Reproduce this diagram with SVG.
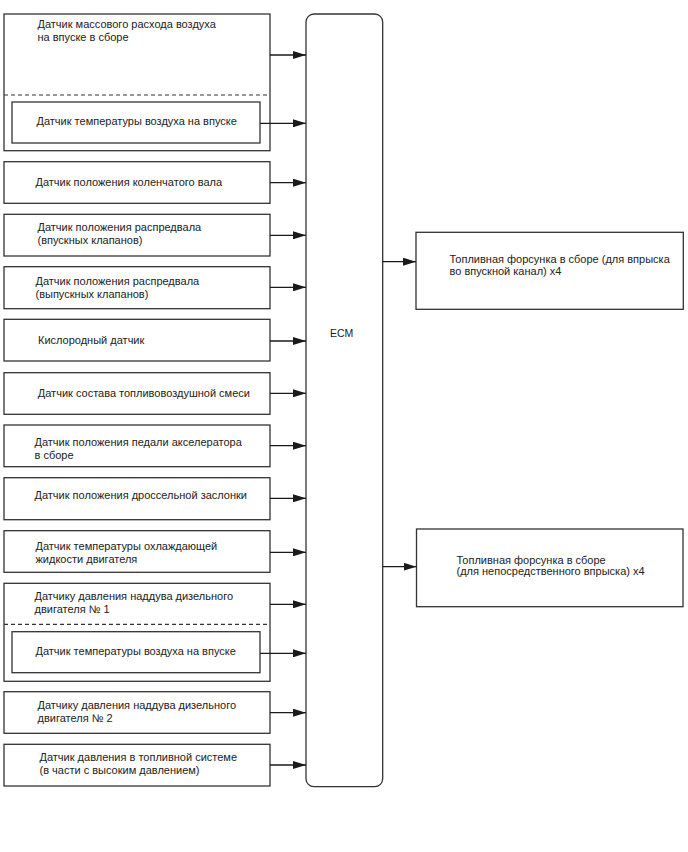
<svg xmlns="http://www.w3.org/2000/svg" width="688" height="852" viewBox="0 0 688 852">
<defs>
<marker id="ah" viewBox="0 0 13 8" refX="13" refY="4" markerWidth="13" markerHeight="8" markerUnits="userSpaceOnUse" orient="auto">
<path d="M0,0 L13,4 L0,8 z" fill="#1a1a1a"/>
</marker>
</defs>
<style>
.b{fill:#fff;stroke:#333;stroke-width:1.3}
.d{stroke:#333;stroke-width:1.2;stroke-dasharray:4,3;fill:none}
.t{font-family:"Liberation Sans",Arial,sans-serif;font-size:11px;fill:#222}
.c{stroke:#1a1a1a;stroke-width:1.3;fill:none;marker-end:url(#ah)}
</style>
<rect width="688" height="852" fill="#fff"/>
<g id="ecm">
<rect class="b" x="306" y="14" width="76.7" height="772.7" rx="8"/>
<text class="t" x="330" y="337.3" style="font-size:10.5px">ECM</text>
</g>
<g id="maf">
<rect class="b" x="4" y="14" width="266" height="136.7"/>
<line class="d" x1="4" y1="95" x2="270" y2="95"/>
<text class="t" x="37.5" y="28.3">Датчик массового расхода воздуха</text>
<text class="t" x="37.5" y="41">на впуске в сборе</text>
</g>
<g id="iat1">
<rect class="b" x="12" y="102" width="248" height="41"/>
<text class="t" x="36.5" y="124.5">Датчик температуры воздуха на впуске</text>
</g>
<g id="ckp">
<rect class="b" x="4" y="161.7" width="266" height="41.6"/>
<text class="t" x="35.5" y="186">Датчик положения коленчатого вала</text>
</g>
<g id="cmp-in">
<rect class="b" x="4" y="214.3" width="266" height="41.7"/>
<text class="t" x="37.5" y="231">Датчик положения распредвала</text>
<text class="t" x="37.5" y="243.5">(впускных клапанов)</text>
</g>
<g id="cmp-ex">
<rect class="b" x="4" y="266.7" width="266" height="42"/>
<text class="t" x="35.5" y="284.5">Датчик положения распредвала</text>
<text class="t" x="35.5" y="297.5">(выпускных клапанов)</text>
</g>
<g id="o2">
<rect class="b" x="4" y="319.3" width="266" height="41.7"/>
<text class="t" x="38" y="343.5">Кислородный датчик</text>
</g>
<g id="afr">
<rect class="b" x="4" y="372.7" width="266" height="41.6"/>
<text class="t" x="37.8" y="397">Датчик состава топливовоздушной смеси</text>
</g>
<g id="app">
<rect class="b" x="4" y="425" width="266" height="41.7"/>
<text class="t" x="34.5" y="446">Датчик положения педали акселератора</text>
<text class="t" x="34.5" y="459">в сборе</text>
</g>
<g id="tps">
<rect class="b" x="4" y="477.7" width="266" height="42"/>
<text class="t" x="34.5" y="498.5">Датчик положения дроссельной заслонки</text>
</g>
<g id="ect">
<rect class="b" x="4" y="530.7" width="266" height="41.6"/>
<text class="t" x="35.5" y="549.5">Датчик температуры охлаждающей</text>
<text class="t" x="35.5" y="562.5">жидкости двигателя</text>
</g>
<g id="boost1">
<rect class="b" x="4" y="583.3" width="266" height="98"/>
<line class="d" x1="4" y1="624.3" x2="270" y2="624.3"/>
<text class="t" x="34.5" y="600">Датчику давления наддува дизельного</text>
<text class="t" x="34.5" y="613">двигателя № 1</text>
</g>
<g id="iat2">
<rect class="b" x="12" y="631.7" width="248" height="41"/>
<text class="t" x="35.5" y="654.5">Датчик температуры воздуха на впуске</text>
</g>
<g id="boost2">
<rect class="b" x="4" y="691.7" width="266" height="41.6"/>
<text class="t" x="37.5" y="708.5">Датчику давления наддува дизельного</text>
<text class="t" x="37.5" y="722">двигателя № 2</text>
</g>
<g id="frp">
<rect class="b" x="4" y="744.3" width="266" height="41.7"/>
<text class="t" x="39.5" y="761">Датчик давления в топливной системе</text>
<text class="t" x="39.5" y="774">(в части с высоким давлением)</text>
</g>
<g id="inj-port">
<rect class="b" x="416" y="232.3" width="267.3" height="77"/>
<text class="t" x="449.5" y="262.5">Топливная форсунка в сборе (для впрыска</text>
<text class="t" x="449.5" y="274.5">во впускной канал) x4</text>
</g>
<g id="inj-direct">
<rect class="b" x="416.5" y="529" width="266.5" height="77.7"/>
<text class="t" x="456.5" y="563.5">Топливная форсунка в сборе</text>
<text class="t" x="456.5" y="575">(для непосредственного впрыска) x4</text>
</g>
<g id="connectors">
<line class="c" x1="270" y1="55" x2="306" y2="55"/>
<line class="c" x1="260" y1="123.3" x2="306" y2="123.3"/>
<line class="c" x1="270" y1="182.7" x2="306" y2="182.7"/>
<line class="c" x1="270" y1="235.3" x2="306" y2="235.3"/>
<line class="c" x1="270" y1="287.3" x2="306" y2="287.3"/>
<line class="c" x1="270" y1="341" x2="306" y2="341"/>
<line class="c" x1="270" y1="393.3" x2="306" y2="393.3"/>
<line class="c" x1="270" y1="445.7" x2="306" y2="445.7"/>
<line class="c" x1="270" y1="498.3" x2="306" y2="498.3"/>
<line class="c" x1="270" y1="552.3" x2="306" y2="552.3"/>
<line class="c" x1="270" y1="604.3" x2="306" y2="604.3"/>
<line class="c" x1="260" y1="653.3" x2="306" y2="653.3"/>
<line class="c" x1="270" y1="712.7" x2="306" y2="712.7"/>
<line class="c" x1="270" y1="765" x2="306" y2="765"/>
<line class="c" x1="382.7" y1="261.7" x2="416" y2="261.7"/>
<line class="c" x1="382.7" y1="566.7" x2="416.5" y2="566.7"/>
</g>
</svg>
